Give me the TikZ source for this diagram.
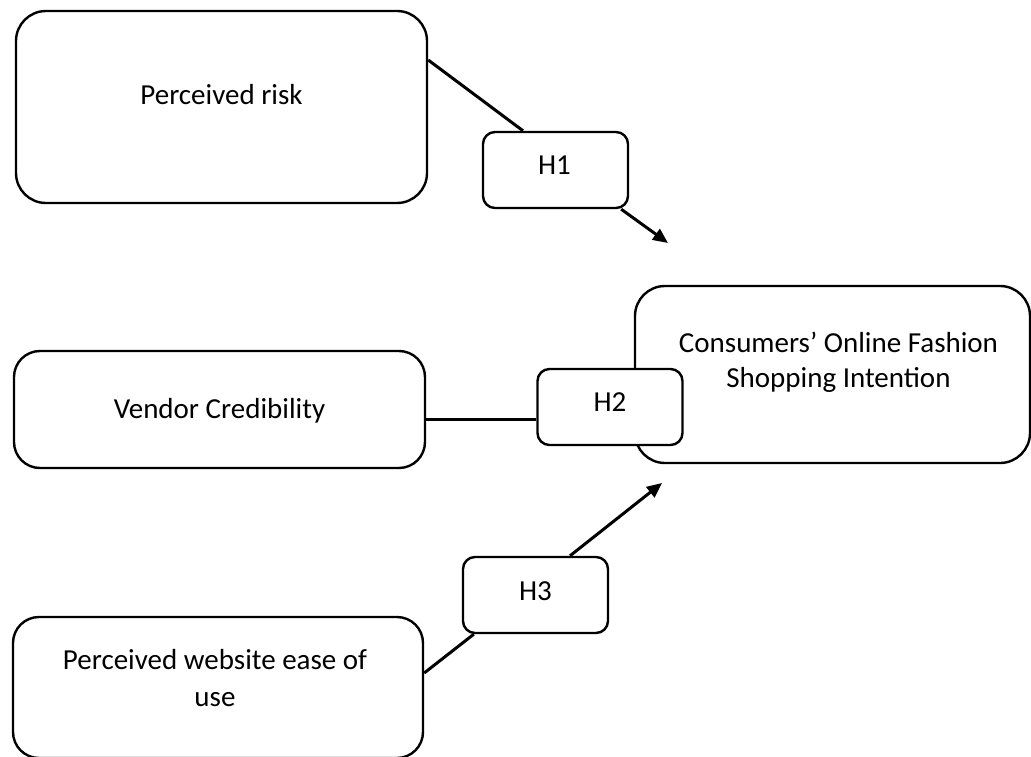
\documentclass[tikz,border=0pt]{standalone}
\usepackage{fontspec}
\setmainfont{Carlito}
\usetikzlibrary{arrows.meta}

\begin{document}
\begin{tikzpicture}[x=1pt,y=-1pt,
  bigbox/.style={draw, line width=2.4pt, fill=white, rounded corners=#1, inner sep=0pt},
  hbox/.style={draw, line width=2.4pt, fill=white, rounded corners=12pt, inner sep=0pt,
               minimum width=145pt, minimum height=76pt},
  txt/.style={font=\fontsize{29}{36}\selectfont, align=center, anchor=base, inner sep=0pt},
  link/.style={line width=3pt},
  arrowlink/.style={line width=3pt, -{Triangle[length=15pt,width=13pt]}}
]
\useasboundingbox (0,0) rectangle (1031,757);

% construct boxes
\node[bigbox=30pt, minimum width=411pt, minimum height=192pt] (risk) at (221.5,107) {};
\node[bigbox=26pt, minimum width=411pt, minimum height=117pt] (vendor) at (219.5,409.5) {};
\node[bigbox=26pt, minimum width=410pt, minimum height=141pt] (ease) at (218,687.5) {};
\node[bigbox=30pt, minimum width=395pt, minimum height=177pt] (intent) at (832.5,374.5) {};

% hypothesis boxes
\node[hbox] (h1) at (555.5,170) {};
\node[hbox] (h2) at (610,407) {};
\node[hbox] (h3) at (535.5,595) {};

% labels (a multi-line label is placed by the baseline of its last line)
\node[txt] (trisk) at (221.5,105) {Perceived risk};
\node[txt] (tvendor) at (219.5,418) {Vendor Credibility};
\node[txt, font=\fontsize{29}{37}\selectfont] (tease) at (215,706) {Perceived website ease of\\ use};
\node[txt, font=\fontsize{29}{35}\selectfont] (tintent) at (838.5,387) {Consumers’ Online Fashion\\ Shopping Intention};
\node[txt] (th1) at (554.5,175) {H1};
\node[txt] (th2) at (610,411) {H2};
\node[txt] (th3) at (535.5,600) {H3};

% arrow targets
\coordinate (e1) at (668,243);
\coordinate (e3) at (662,483);

% connectors
\draw[link] ([yshift=47pt]risk.east) -- ([xshift=-32.5pt]h1.north);
\draw[arrowlink] ([xshift=-8pt]h1.south east) -- (e1);
\draw[link] ([yshift=-9.5pt]vendor.east) -- ([yshift=-12pt]h2.west);
\draw[link] ([yshift=14.5pt]ease.east) -- ([xshift=12pt]h3.south west);
\draw[arrowlink] ([xshift=34.5pt]h3.north) -- (e3);
\end{tikzpicture}
\end{document}
